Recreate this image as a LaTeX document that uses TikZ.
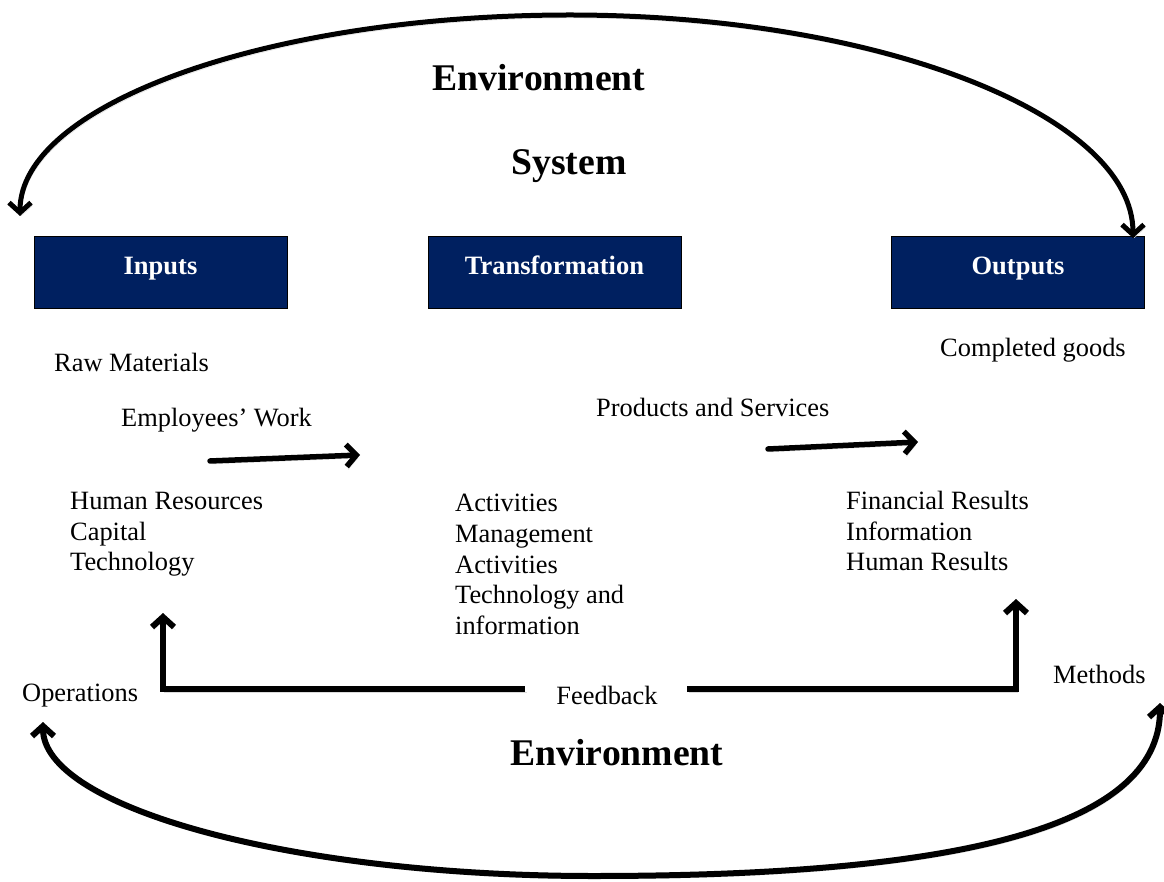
\documentclass[tikz,border=0pt]{standalone}
\usepackage{fontspec}
\setmainfont{Liberation Serif}
\usetikzlibrary{arrows.meta}
\definecolor{boxblue}{HTML}{002060}
\begin{document}
\begin{tikzpicture}[x=1pt,y=-1pt,
  body/.style={font=\fontsize{26.4}{30.7}\selectfont, inner sep=0pt},
  bodyB/.style={body, anchor=base west},
  bodyM/.style={body, anchor=north west, align=left},
  title/.style={font=\fontsize{37.7}{40}\selectfont\bfseries, inner sep=0pt, anchor=base},
  stage/.style={draw=black, line width=0.8pt, fill=boxblue, text=white,
    font=\fontsize{26.5}{28}\selectfont\bfseries, minimum width=253pt, minimum height=72pt,
    inner sep=0pt, text height=18pt, text depth=12pt},
  soft/.style={preaction={draw=black!14, transform canvas={shift={(1.5pt,-3pt)}}}},
  barb/.style={line width=5.5pt, line cap=round, line join=round, soft},
  tip/.tip={Straight Barb[length=10pt, width=22pt]}
]
\useasboundingbox (0,0) rectangle (1164,882);

% stages of the system
\node[stage] (in)  at (160.5,272) {Inputs};
\node[stage] (tr)  at (554.5,272) {Transformation};
\node[stage] (out) at (1018,272) {Outputs};

% titles
\node[title] (envtop) at (539,91) {Environment};
\node[title] (sys) at (569,175) {System};
\node[title] (envbot) at (617,765) {Environment};

% labels
\node[bodyB] (raw) at (54,371) {Raw Materials};
\node[bodyB] (emp) at (121,426) {Employees’ Work};
\node[bodyM] (res) at (70,492) {Human Resources\\Capital\\Technology};
\node[bodyM] (act) at (455,494) {Activities\\Management\\Activities\\Technology and\\information};
\node[bodyB] (prod) at (596,416) {Products and Services};
\node[bodyB] (goods) at (940,356) {Completed goods};
\node[bodyM] (fin) at (846,491) {Financial Results\\Information\\Human Results};
\node[body, anchor=base] (fb) at (607,704) {Feedback};
\node[bodyB] (ops) at (22,701) {Operations};
\node[bodyB] (meth) at (1053,683) {Methods};

% flow arrows
\coordinate (a1s) at (210,461);
\coordinate (a1e) at (360,455);
\coordinate (a2s) at (768,449);
\coordinate (a2e) at (918,442);
\draw[barb, -tip] (a1s) -- (a1e);
\draw[barb, -tip] (a2s) -- (a2e);

% feedback loop
\coordinate (fbl) at (525,689);
\coordinate (fbr) at (687,689);
\coordinate (fblc) at (163,689);
\coordinate (fbrc) at (1016,689);
\coordinate (fblt) at (163,613);
\coordinate (fbrt) at (1016,599);
\draw[barb, line width=6pt, -tip, line cap=butt, line join=miter] (fbl) -- (fblc) -- (fblt);
\draw[barb, line width=6pt, -tip, line cap=butt, line join=miter] (fbr) -- (fbrc) -- (fbrt);

% environment arcs
\coordinate (tl) at (20,216);
\coordinate (tt) at (570,15);
\coordinate (tr2) at (1133,238);
\draw[barb, line width=5pt, tip-tip] (tl) .. controls (20,105) and (266,15) .. (tt)
  .. controls (881,15) and (1133,116) .. (tr2);
\coordinate (bl) at (43,722);
\coordinate (bb) at (593,876);
\coordinate (br) at (1160,703);
\draw[barb, line width=6pt, tip-tip] (bl) .. controls (43,807) and (289,876) .. (bb)
  .. controls (950,876) and (1160,830) .. (br);
\end{tikzpicture}
\end{document}
